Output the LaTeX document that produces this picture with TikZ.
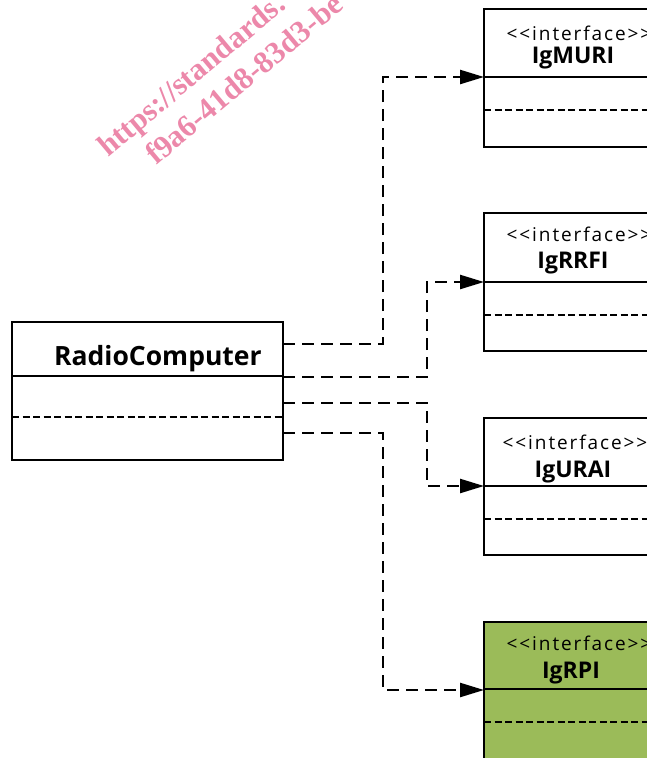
\documentclass[tikz,border=0pt]{standalone}
\usepackage{fontspec}
\setmainfont{Open Sans}
\newfontfamily\wmfont{Liberation Serif}
\newfontfamily\stereofont[LetterSpace=10]{Open Sans}
\usetikzlibrary{arrows.meta,calc}
\definecolor{rpigreen}{RGB}{155,187,89}
\definecolor{wmpink}{RGB}{236,136,170}
\begin{document}
\begin{tikzpicture}[x=1pt,y=-1pt,
  umlbox/.style={draw, line width=1.4pt, rectangle, anchor=north west, outer sep=0pt, inner sep=0pt},
  divider/.style={line width=1.4pt},
  attrsep/.style={line width=2pt, dash pattern=on 7pt off 3.5pt},
  conn/.style={line width=2.4pt, dash pattern=on 12pt off 7pt, -{Triangle[length=24pt,width=14pt]}},
  stereo/.style={font=\stereofont\fontsize{19}{22}\selectfont, anchor=base, inner sep=0pt},
  iname/.style={font=\bfseries\fontsize{23}{26}\selectfont, anchor=base, inner sep=0pt},
  wm/.style={font=\wmfont\bfseries\fontsize{31}{33}\selectfont, text=wmpink, rotate=40, anchor=base west, inner sep=0pt}]

\useasboundingbox (0,0) rectangle (647,758);
\clip (0,0) rectangle (647,758);

% watermark
\node[wm] (wm1) at (108,158) {https://standards.};
\node[wm] (wm2) at (156,166) {f9a6-41d8-83d3-be};

% RadioComputer
\node[umlbox, minimum width=271pt, minimum height=138pt] (rc) at (12,322) {};
\draw[divider] (rc.west |- 0,376) -- (rc.east |- 0,376);
\draw[attrsep] (rc.west |- 0,417) -- (rc.east |- 0,417);
\node[anchor=base west, font=\bfseries\fontsize{26.5}{30}\selectfont, inner sep=0pt] (rcname) at (54,365) {RadioComputer};

% interfaces
\node[umlbox, minimum width=216pt, minimum height=138pt] (muri) at (484,9) {};
\draw[divider] (muri.west |- 0,77) -- (muri.east |- 0,77);
\draw[attrsep] (muri.west |- 0,110) -- (muri.east |- 0,110);
\node[stereo] (muris) at (579,40) {<<interface>>};
\node[iname] (murin) at (573,63) {IgMURI};

\node[umlbox, minimum width=216pt, minimum height=138pt] (rrfi) at (484,213) {};
\draw[divider] (rrfi.west |- 0,282) -- (rrfi.east |- 0,282);
\draw[attrsep] (rrfi.west |- 0,315) -- (rrfi.east |- 0,315);
\node[stereo] (rrfis) at (579,241) {<<interface>>};
\node[iname] (rrfin) at (573,268) {IgRRFI};

\node[umlbox, minimum width=216pt, minimum height=137pt] (urai) at (484,418) {};
\draw[divider] (urai.west |- 0,486) -- (urai.east |- 0,486);
\draw[attrsep] (urai.west |- 0,519) -- (urai.east |- 0,519);
\node[stereo] (urais) at (575,449) {<<interface>>};
\node[iname] (urain) at (573,477) {IgURAI};

\node[umlbox, fill=rpigreen, minimum width=216pt, minimum height=178pt] (rpi) at (484,622) {};
\draw[divider] (rpi.west |- 0,689) -- (rpi.east |- 0,689);
\draw[attrsep] (rpi.west |- 0,722) -- (rpi.east |- 0,722);
\node[stereo] (rpis) at (579,650) {<<interface>>};
\node[iname] (rpin) at (571,678) {IgRPI};

% connectors
\coordinate (rc1) at (rc.east |- 0,344);
\coordinate (rc2) at (rc.east |- 0,377);
\coordinate (rc3) at (rc.east |- 0,403);
\coordinate (rc4) at (rc.east |- 0,433);
\coordinate (muriin) at (muri.west |- 0,77);
\coordinate (rrfiin) at (rrfi.west |- 0,282);
\coordinate (uraiin) at (urai.west |- 0,486);
\coordinate (rpiin) at (rpi.west |- 0,690);

\draw[conn] (rc1) -- ++(100,0) |- (muriin);
\draw[conn] (rc2) -- ++(144,0) |- (rrfiin);
\draw[conn] (rc3) -- ++(144,0) |- (uraiin);
\draw[conn] (rc4) -- ++(100,0) |- (rpiin);
\end{tikzpicture}
\end{document}
